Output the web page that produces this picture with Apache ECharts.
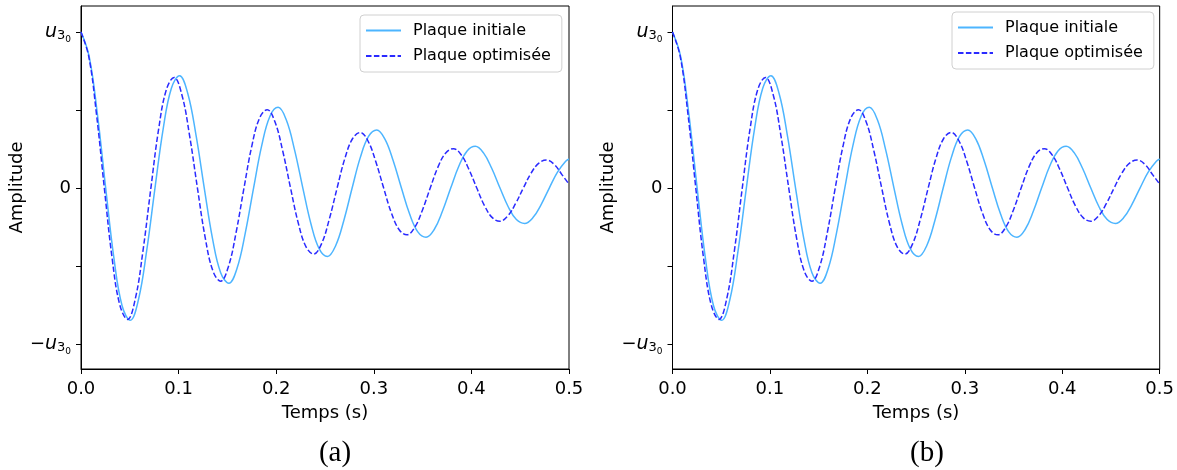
<!DOCTYPE html>
<html>
<head>
<meta charset="utf-8">
<script src="https://cdn.jsdelivr.net/npm/echarts@6/dist/echarts.min.js"></script>
<style>
html,body{margin:0;padding:0;background:#fff;}
#chart{width:1177px;height:470px;}
</style>
</head>
<body>
<div id="chart"></div>
<script>
// Time (s) and amplitude (in units of u30)
const tInitiale = [0, 0.0084, 0.0168, 0.0253, 0.0337, 0.0421, 0.0505, 0.0589, 0.0673, 0.0758,
  0.0842, 0.0926, 0.1010, 0.1094, 0.1178, 0.1263, 0.1347, 0.1431, 0.1515, 0.1599,
  0.1683, 0.1768, 0.1852, 0.1936, 0.2020, 0.2104, 0.2188, 0.2273, 0.2357, 0.2441,
  0.2525, 0.2609, 0.2693, 0.2778, 0.2862, 0.2946, 0.3030, 0.3114, 0.3198, 0.3283,
  0.3367, 0.3451, 0.3535, 0.3619, 0.3703, 0.3788, 0.3872, 0.3956, 0.4040, 0.4124,
  0.4208, 0.4293, 0.4377, 0.4461, 0.4545, 0.4629, 0.4713, 0.4798, 0.4882, 0.4966, 0.5];
const yInitiale = [1, 0.8425, 0.4733, 0, -0.4480, -0.7548, -0.8480, -0.7145, -0.4013, 0,
  0.3799, 0.6401, 0.7191, 0.6059, 0.3403, 0, -0.3221, -0.5428, -0.6098, -0.5138,
  -0.2886, 0, 0.2732, 0.4603, 0.5172, 0.4357, 0.2448, 0, -0.2317, -0.3904,
  -0.4386, -0.3695, -0.2076, 0, 0.1965, 0.3310, 0.3719, 0.3133, 0.1760, 0,
  -0.1666, -0.2807, -0.3154, -0.2657, -0.1493, 0, 0.1413, 0.2381, 0.2675, 0.2253,
  0.1266, 0, -0.1198, -0.2019, -0.2268, -0.1911, -0.1073, 0, 0.1016, 0.1712, 0.186];

const tOptimisee = [0, 0.0080, 0.0159, 0.0239, 0.0318, 0.0398, 0.0477, 0.0557, 0.0636, 0.0716,
  0.0795, 0.0875, 0.0954, 0.1034, 0.1113, 0.1193, 0.1272, 0.1352, 0.1431, 0.1511,
  0.1590, 0.1670, 0.1749, 0.1829, 0.1908, 0.1988, 0.2067, 0.2147, 0.2226, 0.2306,
  0.2385, 0.2465, 0.2544, 0.2624, 0.2703, 0.2783, 0.2862, 0.2942, 0.3021, 0.3101,
  0.3180, 0.3260, 0.3339, 0.3419, 0.3498, 0.3578, 0.3657, 0.3737, 0.3816, 0.3896,
  0.3975, 0.4055, 0.4134, 0.4214, 0.4293, 0.4373, 0.4452, 0.4532, 0.4611, 0.4691,
  0.4770, 0.4850, 0.4929, 0.5];
const yOptimisee = [1, 0.8415, 0.4721, 0, -0.4458, -0.7504, -0.8420, -0.7086, -0.3975, 0,
  0.3754, 0.6318, 0.7090, 0.5966, 0.3347, 0, -0.3161, -0.5320, -0.5970, -0.5024,
  -0.2818, 0, 0.2661, 0.4479, 0.5026, 0.4230, 0.2373, 0, -0.2241, -0.3772,
  -0.4232, -0.3561, -0.1998, 0, 0.1887, 0.3176, 0.3563, 0.2999, 0.1682, 0,
  -0.1589, -0.2674, -0.3000, -0.2525, -0.1417, 0, 0.1338, 0.2251, 0.2526, 0.2126,
  0.1193, 0, -0.1126, -0.1896, -0.2127, -0.1790, -0.1004, 0, 0.0948, 0.1596,
  0.1791, 0.1507, 0.0846, 0.025];

const seriesNames = ['Plaque initiale', 'Plaque optimisée'];
const panelCaptions = ['(a)', '(b)'];
const yTickValues = [-1, -0.5, 0, 0.5, 1];
const yLabelValues = [-1, 0, 1];

const pairs = (ts, ys) => ts.map((t, i) => [t, ys[i]]);

const chart = echarts.init(document.getElementById('chart'), null, {renderer: 'canvas'});
const FONT = 'DejaVu Sans';
const grids = [
  {left: 81, top: 6, width: 488, height: 363},
  {left: 672.5, top: 6, width: 488, height: 363}
];
const yRich = {
  u: {fontFamily: FONT, fontStyle: 'italic', fontSize: 19, color: '#000', lineHeight: 26, verticalAlign: 'middle'},
  m: {fontFamily: FONT, fontSize: 18, color: '#000', lineHeight: 26, verticalAlign: 'middle'},
  s: {fontFamily: FONT, fontSize: 13, color: '#000', lineHeight: 26, verticalAlign: 'bottom', padding: [0, 0, 3, 0]},
  ss: {fontFamily: FONT, fontSize: 9, color: '#000', lineHeight: 26, verticalAlign: 'bottom', padding: [0, 0, 1, 0]}
};
function yFmt(v) {
  if (Math.abs(v - 1) < 1e-9) return '{u|u}{s|3}{ss|0}';
  if (Math.abs(v + 1) < 1e-9) return '{m|−}{u|u}{s|3}{ss|0}';
  if (Math.abs(v) < 1e-9) return '0';
  return '';
}
const xAxes = [], yAxes = [], series = [], legends = [], titles = [];
const legendPos = [{left: 360, top: 15}, {left: 952, top: 12}];
for (let p = 0; p < 2; p++) {
  xAxes.push({
    type: 'value', gridIndex: p, min: 0, max: 0.5, interval: 0.1,
    name: 'Temps (s)', nameLocation: 'middle', nameGap: 35,
    nameTextStyle: {fontFamily: FONT, fontSize: 18, color: '#000'},
    axisLine: {show: true, onZero: false, lineStyle: {color: '#000', width: 1}},
    axisTick: {show: true, length: 5, lineStyle: {color: '#000'}},
    axisLabel: {fontFamily: FONT, fontSize: 18, color: '#000', margin: 11, formatter: v => v.toFixed(1)},
    splitLine: {show: false}
  });
  yAxes.push({
    type: 'value', gridIndex: p, min: -1.16, max: 1.167,
    name: 'Amplitude', nameLocation: 'middle', nameGap: 54, nameRotate: 90,
    nameTextStyle: {fontFamily: FONT, fontSize: 18, color: '#000'},
    axisLine: {show: true, onZero: false, lineStyle: {color: '#000', width: 1}},
    axisTick: {show: true, length: 5, lineStyle: {color: '#000'}, customValues: yTickValues},
    axisLabel: {fontFamily: FONT, fontSize: 18, color: '#000', margin: 10, customValues: yLabelValues, formatter: yFmt, rich: yRich},
    splitLine: {show: false}
  });
  series.push({
    name: seriesNames[0], type: 'line', xAxisIndex: p, yAxisIndex: p,
    data: pairs(tInitiale, yInitiale), smooth: 0.4, showSymbol: false, symbol: 'none',
    lineStyle: {color: '#4db5ff', width: 1.5}, itemStyle: {color: '#4db5ff'}, z: 2
  });
  series.push({
    name: seriesNames[1], type: 'line', xAxisIndex: p, yAxisIndex: p,
    data: pairs(tOptimisee, yOptimisee), smooth: 0.4, showSymbol: false, symbol: 'none',
    lineStyle: {color: '#2a2aff', width: 1.5, type: [5.5, 2.4]}, itemStyle: {color: '#2a2aff'}, z: 3
  });
  legends.push({
    left: legendPos[p].left, top: legendPos[p].top, orient: 'vertical',
    data: seriesNames, itemWidth: 35, itemHeight: 12, itemGap: 7.5,
    padding: [6.5, 11, 7, 5], selectedMode: false,
    itemStyle: {opacity: 0},
    backgroundColor: 'rgba(255,255,255,0.8)', borderColor: '#d0d0d0', borderWidth: 1, borderRadius: 4,
    textStyle: {fontFamily: FONT, fontSize: 16, color: '#000', lineHeight: 18, padding: [0, 0, 0, 7]}
  });
  titles.push({
    text: panelCaptions[p], left: (p === 0 ? 330 : 922), top: 434, textAlign: 'center',
    textStyle: {fontFamily: 'Liberation Serif', fontSize: 29, fontWeight: 'normal', color: '#000'}
  });
}
grids.forEach(g => { g.show = true; g.borderColor = '#000'; g.borderWidth = 1; g.backgroundColor = 'transparent'; g.containLabel = false; });
chart.setOption({
  animation: false,
  backgroundColor: '#fff',
  title: titles,
  grid: grids,
  xAxis: xAxes,
  yAxis: yAxes,
  legend: legends,
  series: series
});
</script>
</body>
</html>
